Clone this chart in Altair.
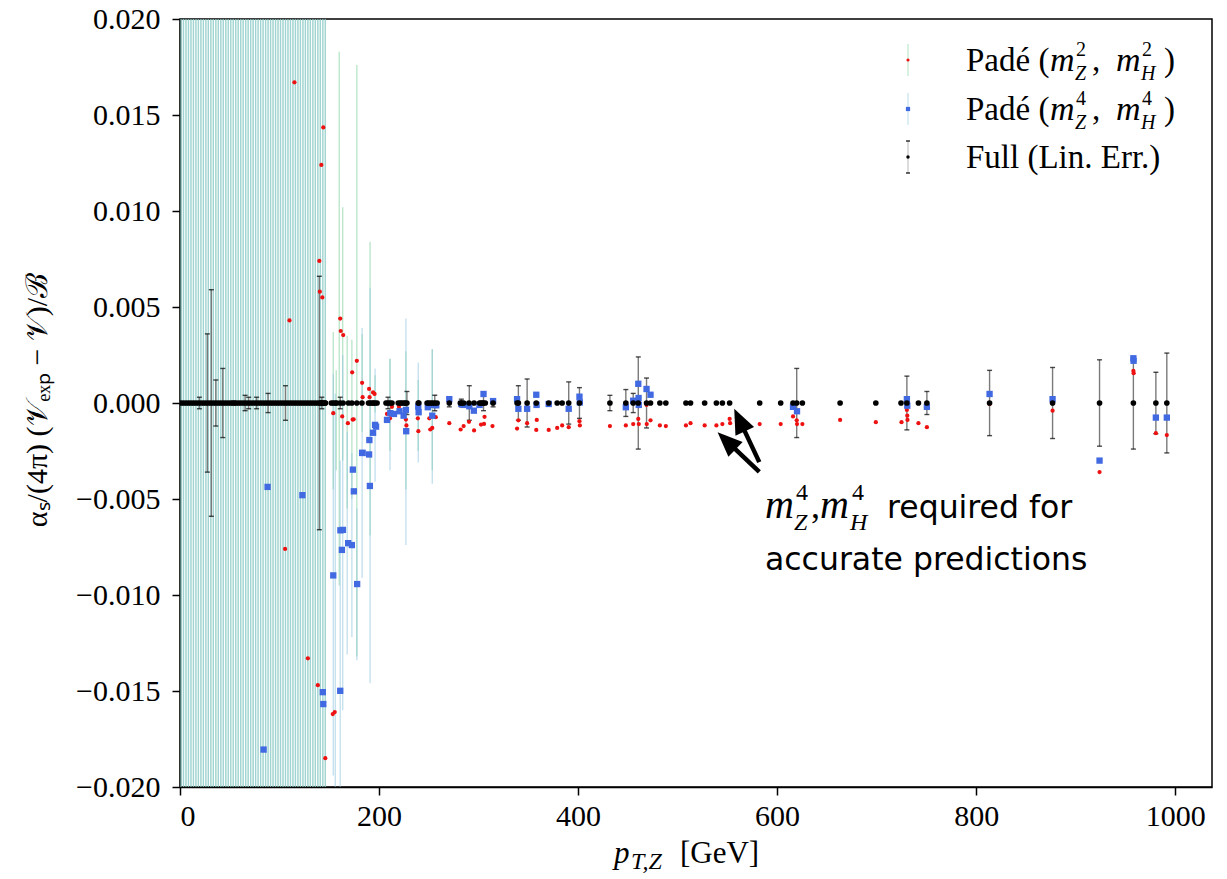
import altair as alt
import pandas as pd

# ------------------------------------------------------------------ data
# dense low-pT grid (GeV): Padé error bars run off-scale, Full value = 0
dense_x = [1, 3.5, 6, 8.5, 11, 13.5, 16, 18.5, 21, 23.5, 26, 28.5, 31, 33.5, 36, 38.5, 41, 43.5,
           46, 48.5, 51, 53.5, 56, 58.5, 61, 63.5, 66, 68.5, 71, 73.5, 76, 78.5, 81, 83.5, 86,
           88.5, 91, 93.5, 96, 98.5, 101, 103.5, 106, 108.5, 111, 113.5, 116, 118.5, 121, 123.5,
           126, 128.5, 131, 133.5, 136, 138.5, 141, 143.5, 146]
OFF_LO, OFF_HI = -0.03, 0.03   # off-scale error-bar ends

# Full (Lin. Err.) : value 0 at every pT
full_sparse_x = [141, 142.5, 144, 146, 152, 154, 156, 157.6, 161, 163.9, 169.3, 172.7, 177.7,
                 182.8, 189.4, 191, 193, 194.5, 196, 198, 207, 209, 211, 213, 219.3, 221.3,
                 223, 225, 226.4, 228, 239.4, 240, 248.3, 250, 252, 254, 256, 258.3, 270.6,
                 281.7, 283, 285, 290.4, 295.5, 301, 302.5, 304, 305, 306.8, 314.6, 338.7,
                 340, 348.8, 358, 370.5, 379, 384, 390.6, 401.4, 432, 448, 455.4, 460.5,
                 468.8, 472.8, 482.2, 488.2, 508.4, 513, 527.2, 539, 545, 552.3, 582.5,
                 603.6, 616, 619.7, 625.4, 663.3, 699.2, 724.5, 730.4, 742, 750.5, 813.5,
                 876.8, 924, 958, 980.6, 991.6]
full_bar_x = [19.5, 27.5, 31.5, 36, 43, 54, 65.4, 69, 77, 88.5, 106, 140, 142.5, 161, 209,
              228, 256, 270.6, 282.7, 290.7, 305, 314.6, 340, 348.8, 390.6, 401.4, 432, 448,
              455.4, 460.5, 468.8, 619.7, 730.4, 750.5, 813.5, 876.8, 924, 958, 980.6, 991.6]
full_bar_err = [0.0003, 0.0036, 0.0059, 0.0012, 0.0018, 0.0001, 0.0004, 0.0003, 0.0003,
                0.0005, 0.0009, 0.0066, 0.0003, 0.0003, 0.0003, 0.0006, 0.0004, 0.0002,
                0.0002, 0.0009, 0.0004, 0.0002, 0.0009, 0.00125, 0.0011, 0.0008, 0.0004,
                0.0007, 0.0005, 0.0024, 0.0013, 0.0018, 0.0014, 0.0006, 0.0017, 0.00185,
                0.00225, 0.0024, 0.0016, 0.0026]

# Padé (m_Z^2, m_H^2)
red_x = [105.6, 110, 115, 128.5, 138.5, 140, 140.5, 142, 143, 144, 146, 154, 153.5, 155.5,
         161, 161.5, 164, 163, 168.7, 173, 173.5, 174.5, 177.7, 183, 183.5, 190, 190.5, 194,
         195.5, 208, 211, 213, 220, 227, 227.5, 228, 239, 239.5, 250.5, 251.5, 253.5, 257,
         270.6, 282, 285, 290.4, 295.5, 302.5, 305.5, 306, 314, 338.7, 340, 348.8, 358,
         358.5, 370.5, 379, 384, 390.6, 401.4, 401.8, 432, 448, 455.4, 460.5, 461, 468.8,
         469, 472.8, 482.2, 488.2, 508.4, 513, 527.2, 539, 545, 552.3, 552.8, 582.5, 603.6,
         616, 619.7, 620, 625.4, 663.3, 699.2, 725, 730.4, 730.8, 731, 742, 750.5, 813.5,
         876.8, 924, 958, 958.3, 980.6, 991.6]
red_y = [-0.0076, 0.0043, 0.0167, -0.0133, -0.0147, 0.0074, 0.0058, 0.0124, 0.0055, 0.01435,
         -0.0185, -0.00053, -0.0162, -0.0161, 0.0044, 0.00375, 0.00354, -0.0007, -0.00105,
         0.0016, -0.00086, -0.00085, 0.0022, 0.00105, 0.0003, 0.00073, 0.0003, 0.00055,
         0.00047, -0.00057, -0.0008, -0.0002, -0.0002, -0.00086, -0.00117, -0.0014, -0.0008,
         -0.00147, -0.0008, -0.00138, -0.0013, -0.00074, -0.00105, -0.00138, -0.0012,
         -0.00098, -0.00143, -0.00112, -0.00109, -0.00072, -0.0012, -0.00133, -0.0009,
         -0.00105, -0.0014, -0.00088, -0.0014, -0.0013, -0.00117, -0.00126, -0.00095,
         -0.00117, -0.0012, -0.00117, -0.0011, -0.00083, -0.0011, -0.0001, -0.0011, -0.0009,
         -0.00117, -0.0012, -0.00117, -0.00105, -0.00117, -0.00117, -0.0011, -0.00083,
         -0.00105, -0.0011, -0.0011, -0.0007, -0.0009, -0.0011, -0.0011, -0.00088, -0.001,
         -0.001, -0.00036, -0.00066, -0.00088, -0.00105, -0.00126, -0.00005, -0.0004,
         -0.0036, 0.00167, 0.00155, -0.00157, -0.00167]
red_bar_x = [154, 157, 160, 163.5, 168, 172.7, 177.7, 183, 191, 196, 211, 227, 239.4, 253.5]
red_bar_lo = [-0.0045, -0.0035, -0.0095, -0.003, -0.0055, -0.005, -0.0132, -0.0015, -0.0069,
              -0.0005, -0.0025, -0.0045, -0.0025, -0.0035]
red_bar_hi = [0.0037, 0.0017, 0.0183, 0.0102, 0.0035, 0.0033, 0.0176, 0.0036, 0.0084,
              0.00145, 0.0023, 0.0027, 0.0012, 0.0028]

# Padé (m_Z^4, m_H^4)
blue_x = [84, 88, 123, 143.5, 144, 154, 161, 161.2, 163.7, 162.7, 169, 172.7, 173.7, 174.7,
          178, 183, 183.5, 190, 190.8, 190.3, 194, 196, 197, 208, 211.3, 215, 220.6, 224.7,
          227, 227.3, 239.4, 239.8, 249, 250, 253.5, 255, 257.5, 270.6, 282.7, 285, 290.7,
          295.3, 301, 305, 314.6, 338.7, 340, 348.8, 358, 358.3, 370.5, 390.6, 401.4, 401.8,
          448, 455.4, 460.5, 460.8, 461, 468.8, 472.8, 616, 620, 730.4, 730.8, 750.5, 813.5,
          876.8, 924, 958, 958.2, 980.6, 991.6]
blue_y = [-0.01805, -0.00437, -0.0048, -0.01506, -0.01568, -0.00898, -0.01499, -0.00663,
          -0.00661, -0.00765, -0.0073, -0.0074, -0.00347, -0.0046, -0.00943, -0.0026, -0.0026,
          -0.00268, -0.00432, -0.00193, -0.00155, -0.00114, -0.00123, -0.00088, -0.00053,
          -0.00057, -0.00043, -0.00066, -0.00036, -0.00147, -0.00019, -0.00048, -0.00022,
          -0.0001, -0.00066, -0.0001, -0.00012, 0.0002, -0.00005, -0.0001, -0.00017, -0.0004,
          -0.0001, 0.00047, 0.0001, 0.0002, -0.0003, -0.0003, 0.00043, -0.0001, -0.00005,
          -0.0003, 0.00033, 0.00003, -0.00022, 0.00012, 0.001, 0.00026, -0.0001, 0.00073,
          0.00043, -0.0002, -0.00043, 0.0002, -0.00014, -0.0002, 0.00047, 0.0002, -0.003,
          0.00233, 0.0022, -0.00076, -0.00076]
blue_bar_x = [154, 156, 161, 163.5, 168, 172.7, 177.7, 183, 191, 196, 211, 227, 239.4, 253.5]
blue_bar_lo = [-0.0194, OFF_LO, -0.027, -0.016, -0.0131, -0.0122, -0.0134, -0.0091, -0.0146,
               -0.0041, -0.0035, -0.0074, -0.0031, -0.0042]
blue_bar_hi = [0.0015, 0.0005, -0.003, 0.0025, -0.0015, -0.0026, -0.0055, 0.0039, 0.006,
               0.0018, 0.0023, 0.0044, 0.0021, 0.0028]

# annotation arrows (tail -> tip), data coordinates
arrow_tail_x = [582.1, 582.1]
arrow_tail_y = [-0.00359, -0.00308]
arrow_neck_x = [549.5, 562.5]
arrow_neck_y = [-0.00198, -0.00092]
arrow_tip_x = [540.2, 556.9]
arrow_tip_y = [-0.00152, -0.0003]
arrow_angle = [313.9, 334.9]

# ------------------------------------------------------------------ frames
full_df = pd.DataFrame({"x": dense_x + full_sparse_x, "y": [0.0] * (len(dense_x) + len(full_sparse_x))})
full_bar_df = pd.DataFrame({"x": full_bar_x, "err": full_bar_err})
full_bar_df["lo"] = -full_bar_df["err"]
full_bar_df["hi"] = full_bar_df["err"]
red_df = pd.DataFrame({"x": red_x, "y": red_y})
blue_df = pd.DataFrame({"x": blue_x, "y": blue_y})
red_bar_df = pd.DataFrame({"x": dense_x + red_bar_x,
                           "lo": [OFF_LO] * len(dense_x) + red_bar_lo,
                           "hi": [OFF_HI] * len(dense_x) + red_bar_hi})
blue_bar_df = pd.DataFrame({"x": dense_x + blue_bar_x,
                            "lo": [OFF_LO] * len(dense_x) + blue_bar_lo,
                            "hi": [OFF_HI] * len(dense_x) + blue_bar_hi})
arrow_df = pd.DataFrame({"tx": arrow_tail_x, "ty": arrow_tail_y, "nx": arrow_neck_x,
                         "ny": arrow_neck_y, "hx": arrow_tip_x, "hy": arrow_tip_y,
                         "ang": arrow_angle})

W, H = 1032, 768
SERIF = "Liberation Serif"
SANS = "DejaVu Sans"
GREEN_ERR = "#7ccf9a"
BLUE_ERR = "#8ec5dd"
RED = "#ee1111"
BLUE = "#4169e1"

xs = alt.Scale(domain=[0, 1037], nice=False, zero=False)
ys = alt.Scale(domain=[-0.02, 0.02], nice=False, zero=False)

X = lambda f="x": alt.X(f"{f}:Q", scale=xs, axis=alt.Axis(
    values=[0, 200, 400, 600, 800, 1000], format="d", title=None, grid=False,
    tickSize=8, tickWidth=1.5, tickColor="black", domainColor="black", domainWidth=1.5,
    labelFont=SERIF, labelFontSize=30, labelColor="black", labelPadding=6))
Y = lambda f="y": alt.Y(f"{f}:Q", scale=ys, axis=alt.Axis(
    values=[-0.02, -0.015, -0.01, -0.005, 0, 0.005, 0.01, 0.015, 0.02],
    labelExpr="replace(format(datum.value, '.3f'), '-', '\u2212')", title=None, grid=False,
    tickSize=8, tickWidth=1.5, tickColor="black", domainColor="black", domainWidth=1.5,
    labelFont=SERIF, labelFontSize=30, labelColor="black", labelPadding=12))

layers = []
layers.append(alt.Chart(red_bar_df).mark_rule(color=GREEN_ERR, opacity=0.55, strokeWidth=1.3, clip=True)
              .encode(x=X(), y=Y("lo"), y2="hi"))
layers.append(alt.Chart(blue_bar_df).mark_rule(color=BLUE_ERR, opacity=0.55, strokeWidth=1.3, clip=True)
              .encode(x=X(), y=Y("lo"), y2="hi"))
layers.append(alt.Chart(full_bar_df).mark_rule(color="#7a7a7a", strokeWidth=1.4, clip=True)
              .encode(x=X(), y=Y("lo"), y2="hi"))
layers.append(alt.Chart(full_bar_df).mark_tick(color="black", orient="horizontal", size=5, thickness=1.4, clip=True)
              .encode(x=X(), y=Y("lo")))
layers.append(alt.Chart(full_bar_df).mark_tick(color="black", orient="horizontal", size=5, thickness=1.4, clip=True)
              .encode(x=X(), y=Y("hi")))
layers.append(alt.Chart(red_df).mark_circle(color=RED, size=18, opacity=1, clip=True)
              .encode(x=X(), y=Y()))
layers.append(alt.Chart(blue_df).mark_square(color=BLUE, size=40, opacity=1, clip=True)
              .encode(x=X(), y=Y()))
layers.append(alt.Chart(full_df).mark_circle(color="black", size=32, opacity=1, clip=True)
              .encode(x=X(), y=Y()))
# arrows
layers.append(alt.Chart(arrow_df).mark_rule(color="black", strokeWidth=4.5)
              .encode(x=X("tx"), y=Y("ty"), x2="nx", y2="ny"))
layers.append(alt.Chart(arrow_df).mark_point(shape="M0,0L-0.62,1.5L0.62,1.5Z", filled=True, color="black",
                                             opacity=1, size=1100)
              .encode(x=X("hx"), y=Y("hy"), angle=alt.Angle("ang:Q", scale=None)))

one = pd.DataFrame({"a": [0]})


def txt(s, x, y, size, font=SERIF, style="normal", align="left", baseline="alphabetic", angle=0):
    kw = dict(text=s, font=font, fontSize=size, fontStyle=style, align=align,
              baseline=baseline, color="black")
    if angle:
        kw["angle"] = angle
    return alt.Chart(one).mark_text(**kw).encode(x=alt.value(x), y=alt.value(y))


# annotation text (positions relative to the plot area)
layers += [
    txt("m", 585, 499, 40, style="italic"),
    txt("4", 616, 481, 24),
    txt("Z", 614, 511, 24, style="italic"),
    txt(",", 631, 499, 36),
    txt("m", 640, 499, 40, style="italic"),
    txt("4", 672, 481, 24),
    txt("H", 670, 511, 24, style="italic"),
    txt("required for", 707, 499, 31.5, font=SANS),
    txt("accurate predictions", 585, 551, 31.5, font=SANS),
]

# legend (manual, positions relative to the plot area)
LX = 728
for ly, col, er, shape, msize in [(41, RED, GREEN_ERR, "circle", 10), (90, BLUE, BLUE_ERR, "square", 18),
                                  (138, "black", "#8a8a8a", "circle", 12)]:
    layers.append(alt.Chart(one).mark_rule(color=er, strokeWidth=1.2, opacity=0.5)
                  .encode(x=alt.value(LX), y=alt.value(ly - 16), y2=alt.value(ly + 16)))
    layers.append(alt.Chart(one).mark_point(shape=shape, filled=True, color=col, opacity=1, size=msize)
                  .encode(x=alt.value(LX), y=alt.value(ly)))
for cy in (122, 154):
    layers.append(alt.Chart(one).mark_rule(color="black", strokeWidth=1.2)
                  .encode(x=alt.value(LX - 2), x2=alt.value(LX + 2), y=alt.value(cy)))

TX = 786
for base, sup in [(52, "2"), (101, "4")]:
    layers += [
        txt("Padé (", TX, base, 33),
        txt("m", TX + 84, base, 34, style="italic"),
        txt(sup, TX + 110, base - 15, 20),
        txt("Z", TX + 109, base + 9, 20, style="italic"),
        txt(",", TX + 126, base, 33),
        txt("m", TX + 150, base, 34, style="italic"),
        txt(sup, TX + 176, base - 15, 20),
        txt("H", TX + 175, base + 9, 20, style="italic"),
        txt(")", TX + 198, base, 33),
    ]
layers.append(txt("Full (Lin. Err.)", TX, 149, 33))

# axis titles
layers += [
    txt("p", 434, 844, 31, style="italic"),
    txt("T,Z", 451, 850, 24, style="italic"),
    txt("[GeV]", 500, 844, 31),
    txt("\u03b1\u209b/(4\u03c0) (\U0001D4B1\u2091\u2093\u209a \u2212 \U0001D4B1)/\u212c", -142, 381, 30,
        align="center", baseline="middle", angle=270),
]

chart = alt.layer(*layers).properties(
    width=W, height=H,
    autosize=alt.AutoSizeParams(type="none"),
    padding={"left": 172, "top": 11, "right": 5, "bottom": 88},
).configure_view(stroke="black", strokeWidth=1.5).configure_axis(domainColor="black")

chart.save("out.html", embed_options={"renderer": "svg", "actions": False})
